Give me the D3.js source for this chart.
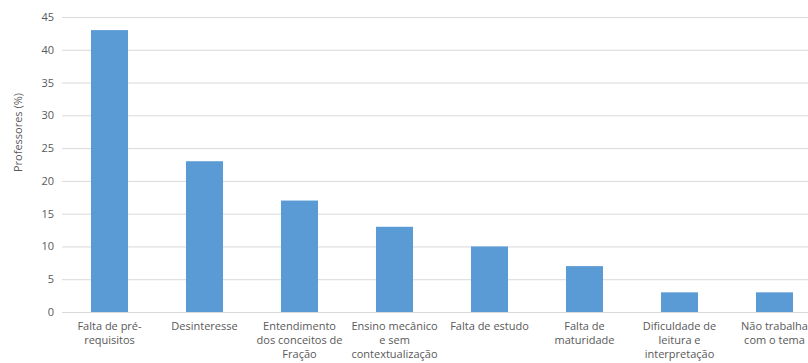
<!DOCTYPE html>
<html>
<head>
<meta charset="utf-8">
<script src="https://cdn.jsdelivr.net/npm/d3@7"></script>
<style>
  html, body { margin: 0; padding: 0; background: #fff; }
  svg { display: block; font-family: "Open Sans", "Liberation Sans", sans-serif; }
</style>
</head>
<body>
<svg id="chart" width="808" height="363"></svg>
<script>
// Motivos apontados pelos professores (% de respostas)
const categories = [
  "Falta de pré-\nrequisitos",
  "Desinteresse",
  "Entendimento\ndos conceitos de\nFração",
  "Ensino mecânico\ne sem\ncontextualização",
  "Falta de estudo",
  "Falta de\nmaturidade",
  "Dificuldade de\nleitura e\ninterpretação",
  "Não trabalha\ncom o tema"
];
const values = [43, 23, 17, 13, 10, 7, 3, 3];
const yTicks = [0, 5, 10, 15, 20, 25, 30, 35, 40, 45];
const yTitle = "Professores (%)";

const svg = d3.select("#chart");
const plotLeft = 62, plotTop = 17, plotBottom = 312;
const step = 95;
const plotRight = plotLeft + step * categories.length;

const x = d3.scaleBand().domain(categories).range([plotLeft, plotRight]).paddingInner(0.61).paddingOuter(0.305);
const y = d3.scaleLinear().domain([0, 45]).range([plotBottom, plotTop]);

// Linhas de grade
svg.append("g")
  .selectAll("line")
  .data(yTicks)
  .join("line")
  .attr("x1", plotLeft).attr("x2", plotRight)
  .attr("y1", d => y(d) + 0.5).attr("y2", d => y(d) + 0.5)
  .attr("stroke", "#d9d9d9").attr("stroke-width", 1);

// Eixo Y
const yAxis = svg.append("g")
  .attr("transform", `translate(${plotLeft - 8},0)`)
  .call(d3.axisLeft(y).tickValues(yTicks).tickSize(0).tickPadding(0));
yAxis.select(".domain").remove();
yAxis.selectAll("text")
  .attr("fill", "#595959")
  .style("font-size", "11px")
  .style("font-family", "\"Open Sans\", sans-serif");

// Barras
svg.append("g")
  .selectAll("rect")
  .data(values)
  .join("rect")
  .attr("x", (d, i) => x(categories[i]))
  .attr("width", x.bandwidth())
  .attr("y", d => y(d))
  .attr("height", d => y(0) - y(d))
  .attr("fill", "#5b9bd5");

// Eixo X com rótulos em várias linhas
const xAxis = svg.append("g")
  .attr("transform", `translate(0,${plotBottom})`)
  .call(d3.axisBottom(x).tickSize(0).tickPadding(0));
xAxis.select(".domain").remove();
xAxis.selectAll("text").each(function (d) {
  const t = d3.select(this);
  t.text(null)
    .attr("y", 0)
    .attr("dy", null)
    .attr("fill", "#595959")
    .style("font-size", "11px")
    .style("font-family", "\"Open Sans\", sans-serif");
  d.split("\n").forEach((line, k) => {
    t.append("tspan")
      .attr("x", 0)
      .attr("y", 18 + k * 14)
      .text(line);
  });
});

// Título do eixo Y
svg.append("text")
  .attr("transform", `translate(22,${(plotTop + plotBottom) / 2 - 32}) rotate(-90)`)
  .attr("text-anchor", "middle")
  .attr("fill", "#595959")
  .style("font-size", "11px")
  .text(yTitle);
</script>
</body>
</html>
